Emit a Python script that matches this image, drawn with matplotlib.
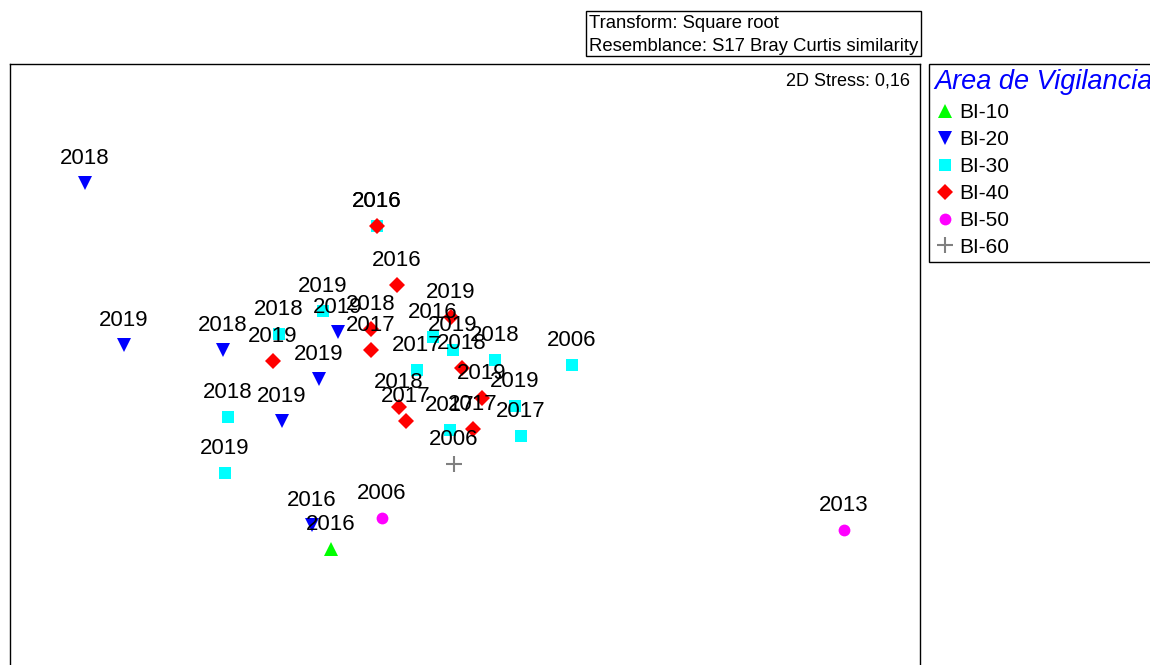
"""
nMDS (PRIMER) : échantillons par Area de Vigilancia, étiquetés par année.
"""

import matplotlib.pyplot as plt
from matplotlib.lines import Line2D
from matplotlib.patches import Rectangle

plt.rcParams.update({
    "font.family": ["Liberation Sans", "DejaVu Sans"],
})

# coordonnées nMDS
bi10_x = [-0.645]
bi10_y = [-0.645]
bi10_year = ["2016"]

bi20_x = [-1.875, -1.68, -1.185, -0.61, -0.705, -0.89, -0.74]
bi20_y = [1.185, 0.375, 0.35, 0.44, 0.205, -0.005, -0.525]
bi20_year = ["2018", "2019", "2018", "2019", "2019", "2019", "2016"]

bi30_x = [-0.905, -0.685, -0.415, -0.215, -0.135, -0.035, 0.175,
          0.275, 0.305, -0.05, 0.56, -1.16, -1.175]
bi30_y = [0.43, 0.545, 0.97, 0.25, 0.415, 0.35, 0.30,
          0.07, -0.08, -0.05, 0.275, 0.015, -0.265]
bi30_year = ["2018", "2019", "2016", "2017", "2016", "2019", "2018",
             "2019", "2017", "2017", "2006", "2018", "2019"]

bi40_x = [-0.415, -0.315, -0.445, -0.445, -0.935, -0.045, 0.01,
          0.11, 0.065, -0.305, -0.27]
bi40_y = [0.97, 0.675, 0.455, 0.35, 0.295, 0.515, 0.26,
          0.11, -0.045, 0.065, -0.005]
bi40_year = ["2016", "2016", "2018", "2017", "2019", "2019", "2018",
             "2019", "2017", "2018", "2017"]

bi50_x = [-0.39, 1.92]
bi50_y = [-0.49, -0.55]
bi50_year = ["2006", "2013"]

bi60_x = [-0.03]
bi60_y = [-0.22]
bi60_year = ["2006"]

groups = ["BI-10", "BI-20", "BI-30", "BI-40", "BI-50", "BI-60"]
markers = ["^", "v", "s", "D", "o", "+"]
colors = ["#00ff00", "#0000ff", "#00ffff", "#ff0000", "#ff00ff", "#808080"]
sizes = [10, 10, 8.5, 8, 8.5, 11]

all_x = [bi10_x, bi20_x, bi30_x, bi40_x, bi50_x, bi60_x]
all_y = [bi10_y, bi20_y, bi30_y, bi40_y, bi50_y, bi60_y]
all_year = [bi10_year, bi20_year, bi30_year, bi40_year, bi50_year, bi60_year]

W, H = 1150, 665
fig = plt.figure(figsize=(W / 100, H / 100), dpi=100)
ax = fig.add_axes([10 / W, -8 / H, 910 / W, (H + 8 - 64) / H])
ax.set_xlim(-2.25, 2.30)
ax.set_ylim(-1.265, 1.78)
ax.set_xticks([])
ax.set_yticks([])
for sp in ax.spines.values():
    sp.set_linewidth(1)

handles = []
for xs, ys, yrs, m, c, s, g in zip(all_x, all_y, all_year, markers,
                                     colors, sizes, groups):
    mew = 1.5 if m == "+" else 0
    ax.plot(xs, ys, linestyle="none", marker=m, color=c, markersize=s,
            markeredgewidth=mew)
    for x, y, yr in zip(xs, ys, yrs):
        ax.annotate(yr, (x, y), xytext=(0, 13.5), textcoords="offset points",
                    ha="center", va="baseline", fontsize=16)
    handles.append(Line2D([], [], linestyle="none", marker=m, color=c,
                          markersize=s, markeredgewidth=mew, label=g))

fig.text(910 / W, 1 - 86 / H, "2D Stress: 0,16", ha="right", va="baseline",
         fontsize=13)

# encadré Transform / Resemblance
fig.patches.append(Rectangle((586 / W, 1 - 56 / H), 335 / W, 45 / H,
                             transform=fig.transFigure, fill=False,
                             edgecolor="black", linewidth=1))
fig.text(589 / W, 1 - 28 / H, "Transform: Square root", va="baseline",
         fontsize=13.3)
fig.text(589 / W, 1 - 51 / H, "Resemblance: S17 Bray Curtis similarity",
         va="baseline", fontsize=13.3)

leg = fig.legend(handles=handles, loc="upper left",
                 bbox_to_anchor=(929 / W, 1 - 64 / H), borderaxespad=0,
                 title="Area de Vigilancia", alignment="left",
                 fontsize=15, title_fontsize=19.5, fancybox=False,
                 edgecolor="black", framealpha=1, handlelength=1,
                 handletextpad=0.2, labelspacing=0.38, borderpad=0.25)
leg.get_frame().set_linewidth(1)
leg.get_title().set_color("blue")
leg.get_title().set_fontstyle("italic")

fig.savefig("out.png", dpi=100)
